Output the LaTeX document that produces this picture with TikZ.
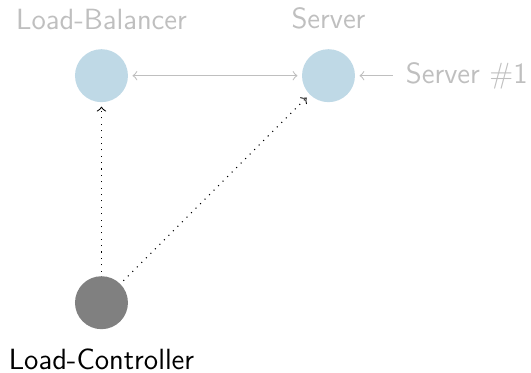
\documentclass[tikz,border=0pt]{standalone}
\usepackage{tikz}
\usetikzlibrary{positioning}
\definecolor{hostblue}{RGB}{191,217,230}
\definecolor{fadegray}{RGB}{191,191,191}

\begin{document}
\begin{tikzpicture}
  [every node/.style={font=\fontsize{11}{13}\selectfont\sffamily},
   host/.style={circle,minimum size=0.7cm,inner sep=0pt,fill=hostblue},
   ctrl/.style={circle,minimum size=0.7cm,inner sep=0pt,fill=gray},
   link/.style={shorten <=1.5pt,shorten >=1.5pt},
   label distance=1.3mm]
  \useasboundingbox (-1.341,-0.918) rectangle (5.676,4.0);
  \node[host,label={[text=fadegray]above:Load-Balancer}] (lb) at (0,3) {};
  \node[host,label={[text=fadegray]above:Server}] (srv) at (3,3) {};
  \node[ctrl,label={below:Load-Controller}] (lc) at (0,0) {};
  \node[text=fadegray,anchor=west] (s1) at (3.9,3) {Server \#1};

  \draw[link,fadegray,<->] (lb) -- (srv);
  \draw[link,fadegray,<-] (srv) -- (s1);
  \foreach \to in {lb,srv}
    \draw[link,dotted,->] (lc) -- (\to);

\end{tikzpicture}
\end{document}
